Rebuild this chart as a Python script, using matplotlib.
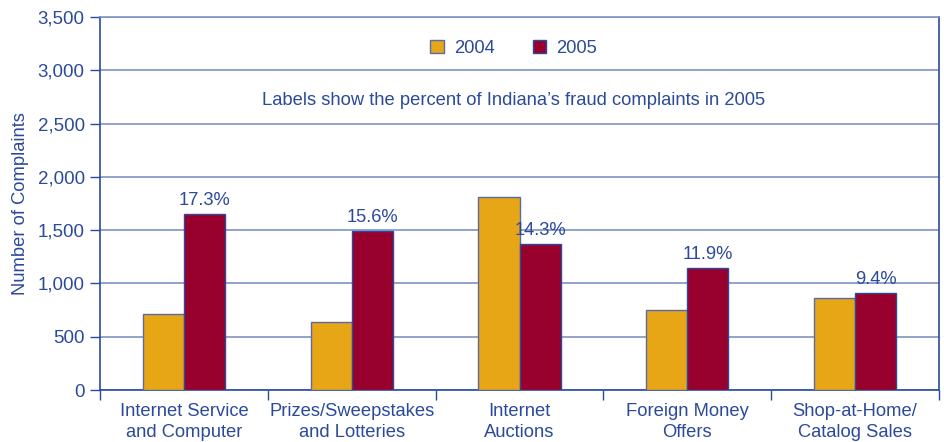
import matplotlib.pyplot as plt
from matplotlib.patches import Patch
import numpy as np

plt.rcParams['font.family'] = ['Liberation Sans', 'DejaVu Sans']

categories = ['Internet Service\nand Computer', 'Prizes/Sweepstakes\nand Lotteries',
              'Internet\nAuctions', 'Foreign Money\nOffers', 'Shop-at-Home/\nCatalog Sales']
values_2004 = [713, 640, 1810, 750, 863]
values_2005 = [1651, 1492, 1370, 1144, 910]
pct_labels = ['17.3%', '15.6%', '14.3%', '11.9%', '9.4%']
y_ticks = [0, 500, 1000, 1500, 2000, 2500, 3000, 3500]

text_color = '#2b4a9b'
grid_color = '#7f92c6'
c2004 = '#e6a615'
c2005 = '#98002e'
fs = 13.2

fig = plt.figure(figsize=(9.44, 4.42), dpi=100)
ax = fig.add_axes([0.106, 0.1176, 0.8887, 0.8439])

x = np.arange(len(categories))
w = 0.245
ax.bar(x - w / 2, values_2004, w, color=c2004, edgecolor='#5a6aa8', linewidth=1, zorder=3)
ax.bar(x + w / 2, values_2005, w, color=c2005, edgecolor=text_color, linewidth=1, zorder=3)

for xi, v, lab in zip(x, values_2005, pct_labels):
    ax.text(xi + w / 2, v + 50, lab, ha='center', va='bottom', fontsize=fs, color=text_color)

ax.set_xlim(-0.5, len(categories) - 0.5)
ax.set_ylim(0, 3500)
ax.set_yticks(y_ticks)
ax.set_yticklabels([f'{t:,}' for t in y_ticks], fontsize=13.5, color=text_color)
ax.yaxis.grid(True, color=grid_color, linewidth=1.2, zorder=0)
ax.set_axisbelow(True)

# category labels between boundary ticks
ax.set_xticks(np.arange(len(categories) + 1) - 0.5)
ax.set_xticklabels([])
ax.set_xticks(x, minor=True)
ax.set_xticklabels(categories, minor=True, fontsize=fs, color=text_color, linespacing=1.35)
ax.tick_params(axis='x', which='minor', length=0, pad=9)
ax.tick_params(axis='x', which='major', length=7, color=text_color, width=1)
ax.tick_params(axis='y', length=7, color=text_color, width=1, pad=4)

ax.set_ylabel('Number of Complaints', fontsize=fs, color=text_color, labelpad=6)

for s in ['left', 'bottom', 'right']:
    ax.spines[s].set_color(text_color)
    ax.spines[s].set_linewidth(1.2)
ax.spines['top'].set_color(grid_color)
ax.spines['top'].set_linewidth(1.2)

handles = [Patch(facecolor=c2004, edgecolor='#5a6aa8'), Patch(facecolor=c2005, edgecolor=text_color)]
leg = ax.legend(handles, ['2004', '2005'], loc='center', bbox_to_anchor=(0.493, 0.916),
                ncol=2, frameon=False, fontsize=fs, handlelength=0.72, handleheight=0.72,
                columnspacing=2.1, handletextpad=0.55, borderpad=0)
for t in leg.get_texts():
    t.set_color(text_color)

ax.text(0.493, 0.777, 'Labels show the percent of Indiana\u2019s fraud complaints in 2005',
        transform=ax.transAxes, ha='center', va='center', fontsize=fs, color=text_color)

fig.savefig('out.png', dpi=100)
